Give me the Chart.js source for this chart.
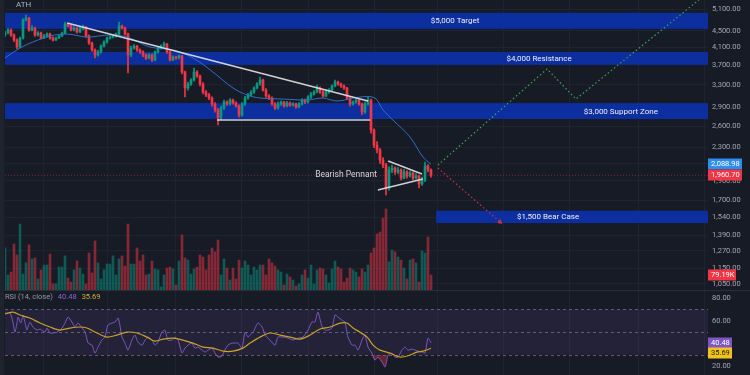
<!DOCTYPE html>
<html>
<head>
<meta charset="utf-8">
<script src="https://cdn.jsdelivr.net/npm/chart.js@4.4.1/dist/chart.umd.min.js"></script>
<style>
  html, body { margin: 0; padding: 0; background: #171b26; }
  #wrap { position: relative; width: 750px; height: 375px; overflow: hidden; background: #171b26; }
  #priceBox { position: absolute; left: 0; top: 0; width: 750px; height: 290px; }
  #rsiBox { position: absolute; left: 0; top: 290px; width: 750px; height: 85px; border-top: 1px solid #2a2e39; box-sizing: border-box; }
  #edge { position: absolute; left: 0; top: 0; width: 4px; height: 375px; background: #1f232e; }
</style>
</head>
<body>
<div id="wrap">
  <div id="priceBox"><canvas id="price" width="750" height="290"></canvas></div>
  <div id="rsiBox"><canvas id="rsi" width="750" height="84"></canvas></div>
  <div id="edge"></div>
</div>
<script>
// ---- candles (index = one bar) ----
const opens = [
  4390,4444,4521,4393,4268,4100,4317,4787,4842,4521,
  4573,4393,4444,4317,4368,4418,4317,4268,4317,4368,
  4444,4680,4627,4521,4573,4470,4547,4600,4368,4195,
  4031,3916,3985,4123,4219,4317,4342,4368,4418,4627,
  4573,4418,3916,4077,4123,4031,3985,3916,3849,3916,
  3805,3985,4077,4123,4171,3985,3805,3871,3849,3893,
  3551,3239,3315,3392,3551,3471,3315,3165,3112,3058,
  2955,2855,2726,2888,2989,2955,3023,2972,2921,2773,
  2955,3058,3112,3165,3239,3315,3392,3202,3094,3058,
  2955,2888,2955,2989,2921,2972,2938,2955,2905,2955,
  3023,2989,3076,3130,3165,3239,3165,3094,3165,3202,
  3277,3353,3315,3277,3239,3058,2955,2989,3023,2955,
  2823,2955,3023,2545,2334,2269,2141,2081,1823,2022,
  2045,1999,2022,1931,1999,1954,1988,1931,1954,1866,
  1909,2069,2022
];
const highs = [
  4490,4560,4550,4420,4300,4340,4830,4927,4860,4640,
  4600,4480,4470,4410,4450,4440,4350,4340,4390,4470,
  4733,4700,4660,4610,4590,4590,4650,4620,4400,4220,
  4060,4020,4150,4250,4340,4370,4400,4440,4733,4650,
  4600,4440,4120,4160,4140,4060,4010,3940,3950,3940,
  4010,4110,4150,4219,4190,4010,3900,3890,3920,3910,
  3570,3350,3420,3634,3580,3490,3340,3190,3140,3080,
  2980,2880,2920,3020,3010,3050,3040,2990,2940,2980,
  3090,3140,3190,3260,3340,3451,3410,3230,3120,3080,
  2980,2990,3010,3000,3000,2990,2980,2970,2980,3050,
  3040,3100,3160,3190,3296,3260,3190,3200,3230,3300,
  3392,3370,3330,3300,3250,3080,3010,3040,3040,2970,
  2990,3076,3040,2560,2380,2290,2170,2100,2060,2080,
  2060,2050,2035,2030,2015,2010,2000,1980,1965,1940,
  2117,2085,2035
];
const lows = [
  4350,4420,4360,4230,4060,4080,4290,4760,4490,4500,
  4360,4370,4290,4300,4340,4290,4240,4250,4300,4350,
  4420,4600,4500,4500,4440,4450,4520,4340,4160,4000,
  3849,3890,3960,4100,4190,4290,4320,4340,4400,4540,
  4390,3532,3880,4050,4000,3950,3880,3810,3830,3770,
  3790,3960,4050,4100,3950,3780,3790,3820,3830,3510,
  3076,3200,3290,3370,3440,3280,3130,3080,3030,2920,
  2820,2619,2700,2860,2930,2935,2950,2900,2740,2750,
  2930,3040,3090,3140,3220,3290,3180,3070,3030,2930,
  2860,2870,2930,2900,2905,2915,2920,2880,2890,2935,
  2960,2970,3050,3110,3150,3140,3070,3080,3140,3180,
  3260,3290,3250,3215,3030,2920,2935,2970,2930,2780,
  2800,2935,2500,2300,2230,2100,2050,1752,1800,1990,
  1970,1980,1910,1920,1930,1940,1910,1915,1823,1850,
  1890,2000,1940
];
const closes = [
  4444,4521,4393,4268,4100,4317,4787,4842,4521,4573,
  4393,4444,4317,4368,4418,4317,4268,4317,4368,4444,
  4680,4627,4521,4573,4470,4547,4600,4368,4195,4031,
  3916,3985,4123,4219,4317,4342,4368,4418,4627,4573,
  4418,3916,4077,4123,4031,3985,3916,3849,3916,3805,
  3985,4077,4123,4171,3985,3805,3871,3849,3893,3551,
  3239,3315,3392,3551,3471,3315,3165,3112,3058,2955,
  2855,2726,2888,2989,2955,3023,2972,2921,2773,2955,
  3058,3112,3165,3239,3315,3392,3202,3094,3058,2955,
  2888,2955,2989,2921,2972,2938,2955,2905,2955,3023,
  2989,3076,3130,3165,3239,3165,3094,3165,3202,3277,
  3353,3315,3277,3239,3058,2955,2989,3023,2955,2823,
  2955,3023,2545,2334,2269,2141,2081,1823,2022,2045,
  1999,2022,1931,1999,1954,1988,1931,1954,1866,1909,
  2069,2022,1960.70
];
// volume in thousands
const volumesK = [
  222,79,95,243,185,348,84,143,238,164,
  169,58,106,132,132,190,32,32,121,121,
  180,63,42,106,153,116,84,32,195,90,
  259,143,58,106,137,137,180,79,164,180,
  127,348,137,137,222,153,185,79,84,153,
  111,106,16,79,116,121,111,26,153,290,
  169,158,84,111,121,185,174,106,185,222,
  201,264,79,164,116,53,116,58,158,116,
  153,132,79,121,106,132,132,79,164,143,
  127,106,95,26,84,69,53,21,32,79,
  106,63,132,32,106,116,111,79,37,111,
  153,121,111,42,63,116,106,95,69,111,
  95,132,195,222,296,306,380,428,148,211,
  201,174,158,116,58,158,164,143,42,206,
  195,280,79.19
];

// moving average over price, [bar index, price]
const emaPoints = [
  [0,3849],[5,4077],[9.3,4219],[15,4367],[20.7,4418],[27.3,4342],[35,4393],
  [40.7,4342],[48.3,4100],[56,4031],[62.7,3849],[69.3,3551],[76,3239],
  [80.7,3112],[85,3058],[92.7,3040],[100.7,3023],[106,3058],[110.7,3006],
  [118.3,3075],[123.3,3058],[126,2855],[129.3,2695],[135,2444],[139.3,2179],
  [142,2088.98]
];

// RSI (14, close) and its average, [bar index, value]
const rsiPoints = [
  [0,66.7],[1.7,66.7],[2.7,57.9],[3.3,49.9],[4,57.9],[4.3,63.2],[5.3,57.9],[6,65.0],
  [6.7,57.9],[7.3,51.7],[8.3,58.8],[9.3,54.4],[10.7,51.7],[11.7,52.6],[13.3,49.9],
  [14,53.5],[15,49.1],[17.3,49.9],[19,53.5],[20,57.9],[21,63.2],[22.3,58.8],[23.3,54.4],
  [24.3,57.9],[25.7,53.5],[26.7,49.9],[27.7,40.2],[29,38.4],[30,31.4],[31,36.7],
  [32.3,42.9],[33.3,45.5],[34.3,56.1],[35.7,57.9],[36.7,58.8],[37.7,62.3],[38.3,56.1],
  [39,45.5],[40,40.2],[41,34.0],[42.3,42.9],[43.3,47.3],[44.3,41.1],[45.7,38.4],
  [46.7,42.9],[47.7,45.5],[49,42.9],[50,38.4],[51,41.1],[52.3,49.9],[53.3,51.7],
  [54.3,42.9],[55.7,42.9],[56.7,45.5],[57.7,42.9],[59,31.4],[60,35.8],[61,38.4],
  [62.3,40.2],[63.3,35.8],[64.3,36.7],[65.7,34.0],[66.7,32.3],[67.7,34.0],[69,35.8],
  [70,31.4],[71,27.8],[72.3,28.7],[73.3,34.0],[74.3,38.4],[75.7,40.2],[76.7,40.2],
  [77.7,40.2],[79,35.8],[80,49.9],[81,45.5],[81.7,47.3],[82.7,49.9],[84.3,57.9],
  [85.7,54.4],[86.7,47.3],[88.3,42.9],[90,38.4],[91,45.5],[92.7,45.5],[94.3,44.6],
  [96,42.9],[97.7,44.6],[99.3,45.5],[101,51.7],[102.3,58.8],[103.3,58.8],[104.3,67.6],
  [105.7,54.4],[106.7,51.7],[107.7,51.7],[109,53.5],[110,65.0],[111,63.2],[112.3,60.5],
  [113.3,58.8],[114.3,45.5],[115.7,38.4],[116.7,38.4],[117.7,34.0],[119,42.9],
  [120,47.3],[121,36.7],[122.3,31.4],[123.3,25.2],[124.3,27.8],[125.7,23.4],
  [126.7,19.0],[127.7,29.6],[129,31.4],[130,27.8],[131,27.8],[132.3,34.0],[133.3,36.7],
  [134.3,34.0],[135.7,34.9],[136.7,34.0],[137.7,33.1],[139,32.3],[140,31.4],
  [141,44.6],[142,40.48]
];
const rsiMaPoints = [
  [0,65.9],[2.7,67.6],[5,65.0],[8.3,62.3],[11.7,57.9],[15,54.4],[18.3,51.7],[21.7,53.5],
  [25,54.4],[27.3,53.5],[30.7,49.1],[34,45.5],[37.3,47.3],[40.7,49.9],[44,49.1],
  [47.3,45.5],[50,42.0],[52.7,43.7],[56,44.6],[59.3,42.9],[62.7,40.2],[66,36.7],
  [69.3,35.8],[72.7,33.1],[76,33.1],[79.3,35.8],[81.7,40.2],[85,45.5],[88.3,49.1],
  [91.7,47.3],[95,45.5],[98.3,43.7],[101.7,47.3],[105,52.6],[108.3,54.4],[111.7,57.9],
  [114,57.9],[116,53.5],[118.3,49.9],[120.7,45.5],[122.7,38.4],[125,34.0],[128.3,31.4],
  [131.7,27.8],[135,29.6],[137.3,32.3],[139.3,33.1],[142,35.69]
];
const rsiLevels = [70, 50, 30];

// drawn annotations, [bar index, price]
const bandNames = ['$5,000 Target', '$4,000 Resistance', '$3,000 Support Zone', '$1,500 Bear Case'];
const bandLow  = [4550, 3700, 2710, 1490];
const bandHigh = [4990, 3985, 2970, 1600];
const bandFrom = [0, 0, 0, 143.7];
const bandLabelAt = [150, 178, 205.3, 181];
const resistanceLine = [[20.7,4706],[121,3006]];
const supportLine = [[70.7,2695],[121.7,2695]];
const pennantTop = [[127.7,2129],[139,1976]];
const pennantBottom = [[124.3,1802],[139.3,1920]];
const bullPath = [[144.3,2081],[180.7,3614],[190.3,3040],[233.3,5527]];
const bearPath = [[144.3,2045],[165,1499]];

const lastPrice = 1960.70;
const lastEma = 2088.98;
const lastVolK = 79.19;
const lastRsi = 40.48;
const lastRsiMa = 35.69;

// ---- axes ----
const priceTicks = [5100,4500,4100,3700,3300,2900,2600,2300,2100,1900,1700,1540,1390,1270,1150,1050];
const rsiTicks = [80, 60, 40, 20];
const gridIdx = [12.67,34.33,56.67,78.67,101,123.33,144,166,188.33,211,233.33];

const X_MAX = 234.33;
const GRID = '#1f2330';
const AXIS_TEXT = '#a3a6af';
const UP = '#089981', DOWN = '#f23645';
const BAND_BLUE = '#0c2e9f';

Chart.defaults.font.family = 'Roboto, "Liberation Sans", sans-serif';
Chart.defaults.animation = false;
Chart.defaults.elements.point.hoverRadius = 0;

const fmt = v => v.toLocaleString('en-US', { minimumFractionDigits: 2, maximumFractionDigits: 2 });
const pts = arr => arr.map(p => ({ x: p[0], y: p[1] }));
const isUp = i => closes[i] >= opens[i];

// right axis: fixed width, no extra padding so the plot uses the full height
function fitRight(s) {
  s.width = 42;
  s.paddingTop = 0;
  s.paddingBottom = 0;
}

function xAxis() {
  return {
    type: 'linear', min: 0, max: X_MAX, offset: false,
    grid: { color: GRID, drawTicks: false, offset: false },
    border: { display: false },
    ticks: { display: false },
    afterBuildTicks: s => { s.ticks = gridIdx.map(v => ({ value: v })); }
  };
}

function lineSet(points, color, width, dash, order) {
  return {
    type: 'line', data: pts(points), borderColor: color, borderWidth: width,
    borderDash: dash || [], pointRadius: 0, fill: false, tension: 0, order: order
  };
}

function tag(ctx, x, y, w, text, bg, fg) {
  ctx.fillStyle = bg;
  ctx.fillRect(x, Math.round(y) - 5.5, w, 11);
  ctx.fillStyle = fg;
  ctx.font = '7.5px Roboto';
  ctx.textAlign = 'left';
  ctx.textBaseline = 'middle';
  ctx.fillText(text, x + 3, Math.round(y) + 0.5);
}

const priceOverlay = {
  id: 'priceOverlay',
  beforeDatasetsDraw(chart) {
    const { ctx, chartArea: a, scales: { x, y } } = chart;
    ctx.save();
    ctx.beginPath();
    ctx.rect(a.left, a.top, a.right - a.left, a.bottom - a.top);
    ctx.clip();
    bandNames.forEach((name, i) => {
      const top = y.getPixelForValue(bandHigh[i]);
      const bot = y.getPixelForValue(bandLow[i]);
      const left = Math.max(a.left, x.getPixelForValue(bandFrom[i]));
      ctx.fillStyle = BAND_BLUE;
      ctx.fillRect(left, top, a.right - left, bot - top);
      ctx.fillStyle = '#eef0f6';
      ctx.font = '8px Roboto';
      ctx.textAlign = 'center';
      ctx.textBaseline = 'middle';
      ctx.fillText(name, x.getPixelForValue(bandLabelAt[i]), (top + bot) / 2 + 0.5);
    });
    ctx.restore();
  },
  afterDatasetsDraw(chart) {
    const { ctx, chartArea: a, scales: { x, y } } = chart;
    ctx.save();
    ctx.font = '8.5px Roboto';
    ctx.fillStyle = '#d1d4dc';
    ctx.textAlign = 'right';
    ctx.textBaseline = 'middle';
    ctx.fillText('Bearish Pennant', x.getPixelForValue(124), y.getPixelForValue(1965));
    ctx.textAlign = 'left';
    ctx.font = '8px Roboto';
    ctx.fillStyle = '#b2b5be';
    ctx.fillText('ATH', a.left + 11, a.top + 5);
    ctx.restore();
  },
  afterDraw(chart) {
    const { ctx, chartArea: a, scales: { y, yv } } = chart;
    ctx.save();
    tag(ctx, a.right, y.getPixelForValue(lastEma), 34, fmt(lastEma), '#2d8ef0', '#ffffff');
    tag(ctx, a.right, y.getPixelForValue(lastPrice), 34, fmt(lastPrice), DOWN, '#ffffff');
    tag(ctx, a.right, yv.getPixelForValue(lastVolK), 28, lastVolK.toFixed(2) + 'K', DOWN, '#ffffff');
    ctx.restore();
  }
};

new Chart(document.getElementById('price'), {
  type: 'bar',
  data: {
    datasets: [
      {
        type: 'bar', yAxisID: 'yv', order: 6, grouped: false, barThickness: 2,
        data: volumesK.map((v, i) => ({ x: i, y: v })),
        backgroundColor: volumesK.map((v, i) => isUp(i) ? 'rgba(8,153,129,0.5)' : 'rgba(242,54,69,0.5)')
      },
      {
        type: 'bar', order: 5, grouped: false, barThickness: 1,
        data: highs.map((h, i) => ({ x: i, y: [lows[i], h] })),
        backgroundColor: highs.map((h, i) => isUp(i) ? UP : DOWN)
      },
      {
        type: 'bar', order: 4, grouped: false, barThickness: 2, minBarLength: 1,
        data: opens.map((o, i) => ({ x: i, y: [o, closes[i]] })),
        backgroundColor: opens.map((o, i) => isUp(i) ? UP : DOWN)
      },
      lineSet([[0, lastPrice], [X_MAX, lastPrice]], 'rgba(242,54,69,0.45)', 1, [1, 2], 3),
      Object.assign(lineSet(emaPoints, '#2f6fc6', 1, null, 2), { tension: 0.35 }),
      lineSet(resistanceLine, 'rgba(226,228,234,0.9)', 1.6, null, 1),
      lineSet(supportLine, 'rgba(226,228,234,0.9)', 1.6, null, 1),
      lineSet(pennantTop, 'rgba(226,228,234,0.9)', 1.4, null, 1),
      lineSet(pennantBottom, 'rgba(226,228,234,0.9)', 1.4, null, 1),
      lineSet(bullPath, '#3aa655', 1.2, [1.5, 2.5], 1),
      Object.assign(lineSet(bearPath, '#c8334c', 1.2, [1.5, 2.5], 1), {
        pointRadius: bearPath.map((p, i) => i === bearPath.length - 1 ? 3 : 0),
        pointStyle: 'triangle', pointRotation: 129,
        pointBackgroundColor: '#c8334c', pointBorderWidth: 0
      })
    ]
  },
  options: {
    responsive: false,
    devicePixelRatio: 1,
    layout: { autoPadding: false, padding: { left: 5, top: 0, right: 0, bottom: 0 } },
    plugins: { legend: { display: false }, tooltip: { enabled: false } },
    scales: {
      x: xAxis(),
      y: {
        type: 'logarithmic', position: 'right', min: 1014.3, max: 5372,
        grid: { color: GRID, drawTicks: false },
        border: { display: false },
        ticks: { color: AXIS_TEXT, font: { size: 7.5 }, padding: 4, autoSkip: false, callback: v => fmt(v) },
        afterBuildTicks: s => { s.ticks = priceTicks.map(v => ({ value: v })); },
        afterFit: fitRight
      },
      yv: { type: 'linear', display: false, min: 0, max: 1531 }
    }
  },
  plugins: [priceOverlay]
});

const rsiOverlay = {
  id: 'rsiOverlay',
  beforeDatasetsDraw(chart) {
    const { ctx, chartArea: a, scales: { y } } = chart;
    ctx.save();
    const top = y.getPixelForValue(rsiLevels[0]);
    const bot = y.getPixelForValue(rsiLevels[rsiLevels.length - 1]);
    ctx.fillStyle = 'rgba(126,87,194,0.12)';
    ctx.fillRect(a.left, top, a.right - a.left, bot - top);
    ctx.strokeStyle = 'rgba(120,123,134,0.7)';
    ctx.lineWidth = 1;
    ctx.setLineDash([3, 3]);
    rsiLevels.forEach(v => {
      const py = Math.round(y.getPixelForValue(v)) + 0.5;
      ctx.beginPath();
      ctx.moveTo(a.left, py);
      ctx.lineTo(a.right, py);
      ctx.stroke();
    });
    ctx.restore();
  },
  afterDraw(chart) {
    const { ctx, chartArea: a, scales: { y } } = chart;
    ctx.save();
    ctx.font = '7.5px Roboto';
    ctx.textAlign = 'left';
    ctx.textBaseline = 'middle';
    // axis labels
    ctx.fillStyle = AXIS_TEXT;
    rsiTicks.forEach(v => ctx.fillText(v.toFixed(2), a.right + 4, y.getPixelForValue(v)));
    // pane title
    ctx.fillStyle = '#9598a1';
    const title = 'RSI (14, close)';
    ctx.fillText(title, 5, 6);
    let tx = 5 + ctx.measureText(title).width + 5;
    ctx.fillStyle = '#8c63d6';
    ctx.fillText(lastRsi.toFixed(2), tx, 6);
    tx += ctx.measureText(lastRsi.toFixed(2)).width + 5;
    ctx.fillStyle = '#d4b02c';
    ctx.fillText(lastRsiMa.toFixed(2), tx, 6);
    const p1 = y.getPixelForValue(lastRsi);
    const p2 = Math.max(y.getPixelForValue(lastRsiMa), p1 + 10);
    tag(ctx, a.right, p1, 24, lastRsi.toFixed(2), '#7e57c2', '#ffffff');
    tag(ctx, a.right, p2, 24, lastRsiMa.toFixed(2), '#f2c318', '#1a1a1a');
    ctx.restore();
  }
};

new Chart(document.getElementById('rsi'), {
  type: 'line',
  data: {
    datasets: [
      {
        data: pts(rsiPoints), borderColor: '#7e57c2', borderWidth: 1, pointRadius: 0,
        tension: 0.2, order: 1,
        fill: { target: { value: 30 }, above: 'rgba(0,0,0,0)', below: 'rgba(242,54,69,0.35)' }
      },
      {
        data: pts(rsiMaPoints), borderColor: '#c9a227', borderWidth: 1.2, pointRadius: 0,
        tension: 0.3, fill: false, order: 0
      }
    ]
  },
  options: {
    responsive: false,
    devicePixelRatio: 1,
    layout: { autoPadding: false, padding: { left: 5, top: 0, right: 0, bottom: 0 } },
    plugins: { legend: { display: false }, tooltip: { enabled: false } },
    scales: {
      x: xAxis(),
      y: {
        type: 'linear', position: 'right', min: 12.06, max: 86.18,
        grid: { display: false, drawTicks: false },
        border: { display: false },
        ticks: { display: false },
        afterBuildTicks: s => { s.ticks = rsiTicks.map(v => ({ value: v })); },
        afterFit: fitRight
      }
    }
  },
  plugins: [rsiOverlay]
});
</script>
</body>
</html>
